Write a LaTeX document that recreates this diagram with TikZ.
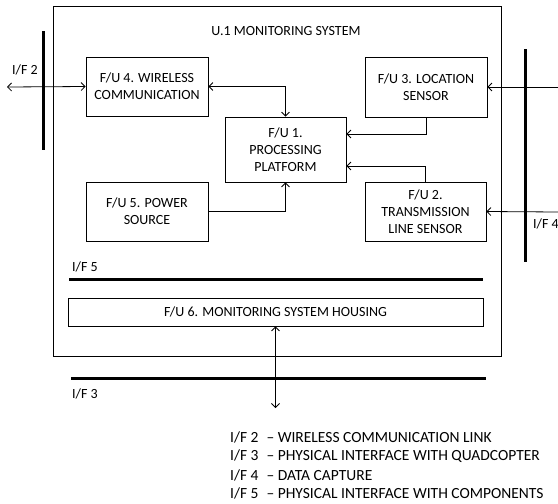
\documentclass[tikz,border=0pt]{standalone}
\usepackage{fontspec}
\setmainfont{Carlito}
\usetikzlibrary{arrows.meta}

\begin{document}
\begin{tikzpicture}[
		x=1pt, y=-1pt,
		every node/.style={font=\fontsize{14}{17}\selectfont, align=center, inner sep=0pt},
		fu/.style={draw, line width=0.8pt, minimum width=122pt, minimum height=59pt},
		link/.style={line width=0.8pt},
		bar/.style={line width=3pt},
		legend/.style={anchor=west, font=\fontsize{15.5}{17}\selectfont},
		>={Straight Barb[length=4pt, width=8pt, line width=0.8pt]},
		line cap=butt,
		line join=miter
		]
		\useasboundingbox (0,0) rectangle (558,504);
		
		% ---- system box ----
		\node[draw, line width=0.8pt, minimum width=448pt, minimum height=350pt] (sys) at (277,181) {};
		\node (title) at (286,31) {U.1 MONITORING SYSTEM};
		
		% ---- function units ----
		\node[fu] (fu4) at (147,86.5) {F/U 4. WIRELESS\\COMMUNICATION};
		\node[fu, minimum width=121pt, minimum height=65pt] (fu1) at (285.5,149.5) {F/U 1.\\PROCESSING\\PLATFORM};
		\node[fu] (fu5) at (147,211.5) {F/U 5. POWER\\SOURCE};
		\node[fu, minimum height=60pt] (fu3) at (426,87) {F/U 3. LOCATION\\SENSOR};
		\node[fu, minimum width=121pt] (fu2) at (425.5,211.5) {F/U 2.\\TRANSMISSION\\LINE SENSOR};
		\node[fu, minimum width=415pt, minimum height=28pt] (fu6) at (275.5,312) {F/U 6. MONITORING SYSTEM HOUSING};
		
		% ---- interfaces ----
		\coordinate (if2out) at (7,87);
		\coordinate (if4a) at (558,87);
		\coordinate (if4b) at (558,212);
		\coordinate (if3out) at (275.5,408);
		
		\draw[bar] (43,31) -- (43,150);
		\draw[bar] (525,49) -- (525,262);
		\draw[bar] (69,279) -- (483,279);
		\draw[bar] (71,378) -- (486,378);
		
		\node (if2) at (25,70) {I/F 2};
		\node[anchor=west] (if4) at (533,224) {I/F 4};
		\node[anchor=west] (if5) at (72,267) {I/F 5};
		\node[anchor=west] (if3) at (72,394) {I/F 3};
		
		% ---- connectors ----
		\draw[link, <->] (if2out) -- (fu4.west);
		\draw[link, <->] (fu4.east) -| (fu1.north);
		\draw[link, ->] (fu5.east) -| (fu1.south);
		\draw[link, ->] (fu3.south) |- ([yshift=15.5pt]fu1.east);
		\draw[link, ->] (fu2.north) |- ([yshift=-16.5pt]fu1.east);
		\draw[link, ->] (if4a) -- (fu3.east);
		\draw[link, ->] (if4b) -- (fu2.east);
		\draw[link, <->] (fu6.south) -- (if3out);
		
		% ---- legend ----
		\node[legend] (leg2) at (230,437) {I/F 2\hspace{8pt}– WIRELESS COMMUNICATION LINK};
		\node[legend] (leg3) at (230,456) {I/F 3\hspace{8pt}– PHYSICAL INTERFACE WITH QUADCOPTER};
		\node[legend] (leg4) at (230,475) {I/F 4\hspace{8pt}– DATA CAPTURE};
		\node[legend] (leg5) at (230,493) {I/F 5\hspace{8pt}– PHYSICAL INTERFACE WITH COMPONENTS};
	\end{tikzpicture}
\end{document}
